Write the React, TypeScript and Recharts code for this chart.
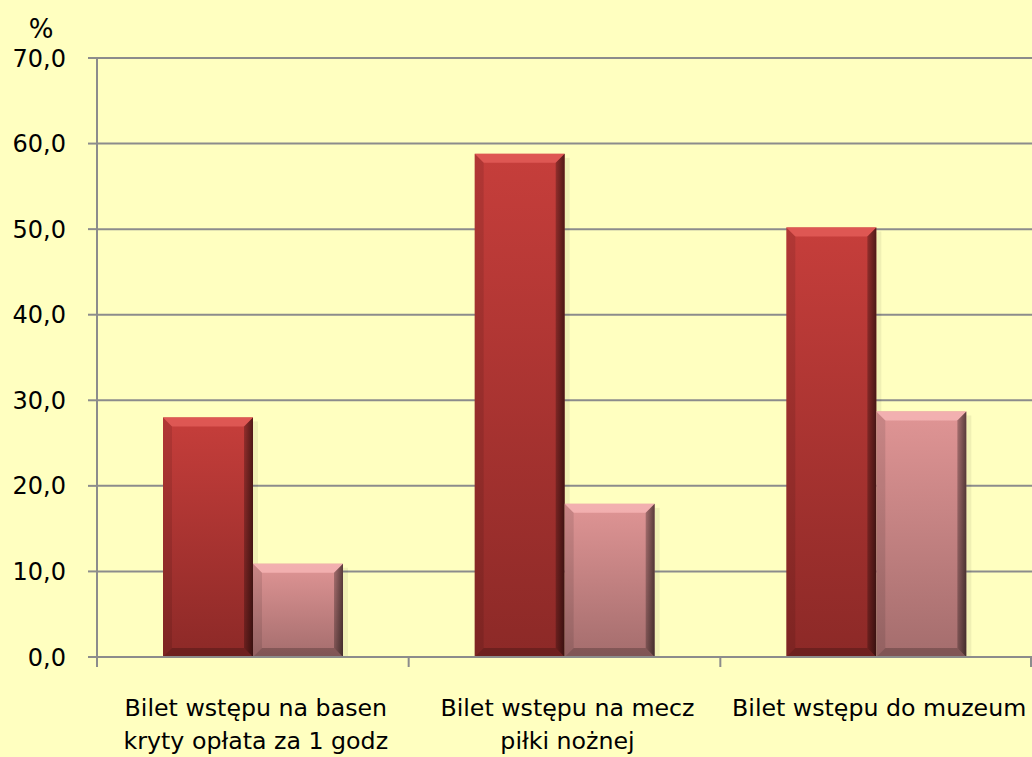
import React from 'react';
import { BarChart, Bar, XAxis, YAxis, CartesianGrid } from 'recharts';

const categories = [
  'Bilet wstępu na basen\nkryty opłata za 1 godz',
  'Bilet wstępu na mecz\npiłki nożnej',
  'Bilet wstępu do muzeum',
];
const seriesDark = [28.0, 58.8, 50.2];
const seriesLight = [10.9, 17.9, 28.7];
const yTicks = [0, 10, 20, 30, 40, 50, 60, 70];

const data = categories.map((name, i) => ({ name, dark: seriesDark[i], light: seriesLight[i] }));

const FONT = "'Comic Sans MS', 'DejaVu Sans', sans-serif";
const GRID = '#8c8c8c';
const BG = '#FFFFC0';

const makeShape = (gradId: string, topCol: string) => (props: any) => {
  const { x, y, width: w, height: h } = props;
  if (!h || h <= 0) return <g />;
  const b = Math.min(9, h / 2, w / 2);
  return (
    <g>
      <rect x={x + w} y={y + 4} width={5} height={h - 4} fill="#000" opacity={0.06} />
      <rect x={x} y={y} width={w} height={h} fill={`url(#${gradId})`} />
      <polygon points={`${x},${y} ${x + w},${y} ${x + w - b},${y + b} ${x + b},${y + b}`} fill={topCol} opacity={0.9} />
      <polygon points={`${x},${y} ${x + b},${y + b} ${x + b},${y + h - b} ${x},${y + h}`} fill="#000" opacity={0.1} />
      <polygon points={`${x + w},${y} ${x + w},${y + h} ${x + w - b},${y + h - b} ${x + w - b},${y + b}`} fill="url(#edgeR)" />
      <polygon points={`${x},${y + h} ${x + b},${y + h - b} ${x + w - b},${y + h - b} ${x + w},${y + h}`} fill="#000" opacity={0.22} />
    </g>
  );
};

const DarkShape = makeShape('gradDark', '#E05A57');
const LightShape = makeShape('gradLight', '#F4B2B2');

const fmt = (v: number) => v.toFixed(1).replace('.', ',');

const XTick = (props: any) => {
  const { x, y, payload, index, visibleTicksCount } = props;
  const off = payload && typeof payload.offset === 'number' && payload.offset > 0 ? payload.offset : 155.8;
  const lines = String(payload.value).split('\n');
  const last = index === (visibleTicksCount ?? categories.length) - 1;
  return (
    <g>
      <line x1={x - off} y1={y} x2={x - off} y2={y + 10} stroke={GRID} strokeWidth={2} />
      {last && <line x1={x + off - 1} y1={y} x2={x + off - 1} y2={y + 10} stroke={GRID} strokeWidth={2} />}
      <text textAnchor="middle" fontFamily={FONT} fontSize={23.7} fill="#000">
        {lines.map((l, i) => (
          <tspan key={i} x={x + 3} y={y + 59 + i * 33}>{l}</tspan>
        ))}
      </text>
    </g>
  );
};

const PercentLabel = (props: any) => {
  const vb = props.viewBox || { x: 0, y: 58, width: 97 };
  return (
    <text x={vb.x + 41} y={vb.y - 20} textAnchor="middle" fontFamily={FONT} fontSize={26} fill="#000">%</text>
  );
};

export default function App() {
  return (
    <div style={{ position: 'fixed', left: 0, top: 0, width: 1032, height: 757, background: BG }}>
      <BarChart
        width={1032}
        height={757}
        data={data}
        margin={{ top: 58, right: 0, bottom: 0, left: 0 }}
        barGap={0}
        barSize={90}
      >
        <defs>
          <linearGradient id="gradDark" x1="0" y1="0" x2="0" y2="1">
            <stop offset="0%" stopColor="#C63E3B" />
            <stop offset="100%" stopColor="#8C2927" />
          </linearGradient>
          <linearGradient id="gradLight" x1="0" y1="0" x2="0" y2="1">
            <stop offset="0%" stopColor="#E09595" />
            <stop offset="100%" stopColor="#A46D6D" />
          </linearGradient>
          <linearGradient id="edgeR" x1="0" y1="0" x2="1" y2="0">
            <stop offset="0%" stopColor="#000" stopOpacity={0.25} />
            <stop offset="100%" stopColor="#000" stopOpacity={0.6} />
          </linearGradient>
        </defs>
        <CartesianGrid vertical={false} stroke={GRID} strokeWidth={2} />
        <XAxis
          dataKey="name"
          interval={0}
          height={100}
          tickLine={false}
          tickSize={0}
          tickMargin={0}
          axisLine={{ stroke: GRID, strokeWidth: 2 }}
          tick={<XTick />}
        />
        <YAxis
          width={97}
          domain={[0, 70]}
          ticks={yTicks}
          interval={0}
          tickFormatter={fmt}
          tickSize={9}
          tickMargin={22}
          tickLine={{ stroke: GRID, strokeWidth: 2 }}
          axisLine={{ stroke: GRID, strokeWidth: 2 }}
          tick={{ fontSize: 24, fill: '#000', fontFamily: FONT }}
          label={<PercentLabel />}
        />
        <Bar dataKey="dark" isAnimationActive={false} shape={DarkShape} />
        <Bar dataKey="light" isAnimationActive={false} shape={LightShape} />
      </BarChart>
    </div>
  );
}
